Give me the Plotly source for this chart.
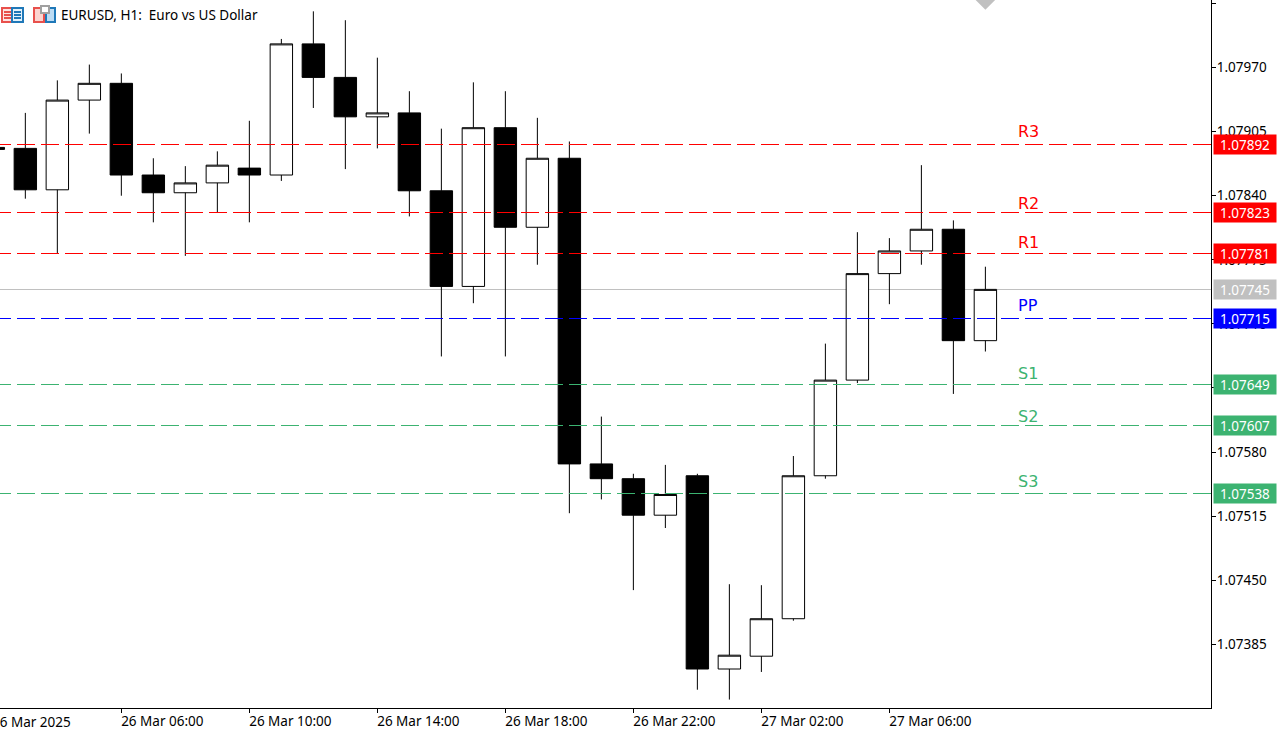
import plotly.graph_objects as go

# Hourly candles, the first one is only just visible at the left edge
times = ['2025-03-26 02:00', '2025-03-26 03:00', '2025-03-26 04:00', '2025-03-26 05:00', '2025-03-26 06:00',
         '2025-03-26 07:00', '2025-03-26 08:00', '2025-03-26 09:00', '2025-03-26 10:00', '2025-03-26 11:00',
         '2025-03-26 12:00', '2025-03-26 13:00', '2025-03-26 14:00', '2025-03-26 15:00', '2025-03-26 16:00',
         '2025-03-26 17:00', '2025-03-26 18:00', '2025-03-26 19:00', '2025-03-26 20:00', '2025-03-26 21:00',
         '2025-03-26 22:00', '2025-03-26 23:00', '2025-03-27 00:00', '2025-03-27 01:00', '2025-03-27 02:00',
         '2025-03-27 03:00', '2025-03-27 04:00', '2025-03-27 05:00', '2025-03-27 06:00', '2025-03-27 07:00',
         '2025-03-27 08:00', '2025-03-27 09:00']
opens = [1.07889, 1.07888, 1.07846, 1.07937, 1.07954, 1.07861, 1.07843, 1.07853, 1.07868, 1.07861, 1.07994, 1.07960,
         1.07920, 1.07924, 1.07845, 1.07748, 1.07909, 1.07808, 1.07878, 1.07568, 1.07553, 1.07516, 1.07556, 1.07360,
         1.07373, 1.07411, 1.07556, 1.07653, 1.07761, 1.07784, 1.07806, 1.07693]
highs = [1.07889, 1.07924, 1.07957, 1.07973, 1.07964, 1.07878, 1.07870, 1.07885, 1.07916, 1.07999, 1.08027, 1.08018,
         1.07980, 1.07946, 1.07908, 1.07955, 1.07946, 1.07919, 1.07895, 1.07616, 1.07558, 1.07567, 1.07558, 1.07446,
         1.07445, 1.07576, 1.07690, 1.07803, 1.07797, 1.07871, 1.07815, 1.07768]
lows = [1.07887, 1.07837, 1.07781, 1.07903, 1.07840, 1.07813, 1.07779, 1.07823, 1.07813, 1.07855, 1.07929, 1.07867,
        1.07888, 1.07819, 1.07677, 1.07731, 1.07677, 1.07770, 1.07518, 1.07532, 1.07440, 1.07503, 1.07339, 1.07329,
        1.07357, 1.07409, 1.07553, 1.07650, 1.07730, 1.07770, 1.07639, 1.07682]
closes = [1.07887, 1.07846, 1.07937, 1.07954, 1.07861, 1.07843, 1.07853, 1.07871, 1.07861, 1.07994, 1.07960, 1.07920,
          1.07924, 1.07845, 1.07748, 1.07909, 1.07808, 1.07878, 1.07568, 1.07553, 1.07516, 1.07537, 1.07360, 1.07374,
          1.07411, 1.07556, 1.07653, 1.07761, 1.07784, 1.07806, 1.07693, 1.07745]

level_names = ['R3', 'R2', 'R1', 'PP', 'S1', 'S2', 'S3']
level_values = [1.07892, 1.07823, 1.07781, 1.07715, 1.07649, 1.07607, 1.07538]
level_colors = ['#ff0000', '#ff0000', '#ff0000', '#0000ff', '#3cb371', '#3cb371', '#3cb371']
current_price = 1.07745

price_ticks = [1.08035, 1.07970, 1.07905, 1.07840, 1.07775, 1.07710, 1.07645, 1.07580, 1.07515, 1.07450, 1.07385]
time_ticks = ['2025-03-26 06:00', '2025-03-26 10:00', '2025-03-26 14:00', '2025-03-26 18:00',
              '2025-03-26 22:00', '2025-03-27 02:00', '2025-03-27 06:00']
time_labels = ['26 Mar 06:00', '26 Mar 10:00', '26 Mar 14:00', '26 Mar 18:00',
               '26 Mar 22:00', '27 Mar 02:00', '27 Mar 06:00']

X_RANGE = ['2025-03-26 02:12:30', '2025-03-27 16:03']
Y_RANGE = [1.0732045, 1.080385]
FONT = 'Noto Sans'
W, H = 1211, 708
# the level names do not sit at one fixed height above their lines
name_lift = [13, 9, 11, 13, 11, 9, 12]


def px(x):
    return x / W


def py(y):
    return 1 - y / H


def box(x0, y0, x1, y1, line, fill):
    return dict(type='rect', xref='paper', yref='paper', x0=px(x0), x1=px(x1), y0=py(y0), y1=py(y1),
                line=dict(color=line, width=1.5), fillcolor=fill)


def stroke(x0, y, x1, color):
    return dict(type='line', xref='paper', yref='paper', x0=px(x0), x1=px(x1), y0=py(y), y1=py(y),
                line=dict(color=color, width=1.5))


fig = go.Figure()

fig.add_trace(go.Candlestick(x=times, open=opens, high=highs, low=lows, close=closes,
                             increasing=dict(line=dict(color='black', width=1), fillcolor='white'),
                             decreasing=dict(line=dict(color='black', width=1), fillcolor='black'),
                             showlegend=False))

# Pivot levels, drawn over the candles
for name, value, color, lift in zip(level_names, level_values, level_colors, name_lift):
    fig.add_trace(go.Scatter(x=[times[0], X_RANGE[1]], y=[value, value], mode='lines', name=name,
                             line=dict(color=color, width=1, dash='18px,6px'), showlegend=False))
    fig.add_annotation(x='2025-03-27 10:20', y=value, yshift=lift, text=name, showarrow=False,
                       font=dict(family='DejaVu Sans', size=16, color=color))
    fig.add_annotation(xref='paper', x=1, xshift=2, xanchor='left', y=value, text=f'{value:.5f}', showarrow=False,
                       width=60, height=17, bgcolor=color, font=dict(family=FONT, size=13.5, color='white'))

fig.add_annotation(xref='paper', x=1, xshift=2, xanchor='left', y=current_price, text=f'{current_price:.5f}',
                   showarrow=False, width=60, height=17, bgcolor='#c0c0c0',
                   font=dict(family=FONT, size=13.5, color='white'))

# Shift marker at the top, over the last candle
fig.add_trace(go.Scatter(x=[times[-1]], y=[Y_RANGE[1]], mode='markers', showlegend=False,
                         marker=dict(symbol='diamond', size=15, color='#c0c0c0')))

# First time label starts left of the window, its tick is off the axis
fig.add_annotation(xref='x', x=X_RANGE[0], xshift=-10, xanchor='left', yref='paper', y=0, yshift=-3, yanchor='top',
                   text='26 Mar 2025', showarrow=False, font=dict(family=FONT, size=13.5, color='black'))

fig.add_annotation(xref='paper', x=px(59), xanchor='left', yref='paper', y=py(15), yanchor='middle', showarrow=False,
                   text='EURUSD, H1:  Euro vs US Dollar', font=dict(family=FONT, size=13.5, color='black'))

shapes = [
    dict(type='line', xref='paper', x0=0, x1=1, yref='y', y0=current_price, y1=current_price,
         line=dict(color='#c0c0c0', width=1), layer='below'),
    # toolbar icons top left
    box(2, 8, 12, 22, '#e8504c', '#fde4e2'),
    box(12, 8, 23, 22, '#1f78b8', '#e4f1fb'),
    stroke(4, 12, 11, '#e8504c'), stroke(4, 15, 11, '#e8504c'), stroke(4, 18, 11, '#e8504c'),
    stroke(14, 12, 21, '#1f78b8'), stroke(14, 15, 21, '#1f78b8'), stroke(14, 18, 21, '#1f78b8'),
    box(34, 8, 44, 22, '#e8504c', '#fcd4d0'),
    box(46, 8, 55, 22, '#1f78b8', '#bcdcf4'),
    box(41, 6, 49, 13, '#a0a0a0', 'white'),
]

fig.update_layout(
    width=1288, height=730, margin=dict(l=0, r=77, t=0, b=22),
    paper_bgcolor='white', plot_bgcolor='white', shapes=shapes, showlegend=False,
    boxgap=0, boxgroupgap=0.3,
    xaxis=dict(type='date', range=X_RANGE, rangeslider=dict(visible=False), showgrid=False, zeroline=False,
               automargin=False, tickmode='array', tickvals=time_ticks, ticktext=time_labels, ticks='outside',
               ticklen=4, tickcolor='black', ticklabelshift=41, ticklabelstandoff=-3,
               showline=True, linecolor='black', linewidth=1, tickfont=dict(family=FONT, size=13.5, color='black')),
    yaxis=dict(side='right', range=Y_RANGE, showgrid=False, zeroline=False, automargin=False,
               tickmode='array', tickvals=price_ticks, tickformat='.5f', ticks='outside', ticklen=4,
               ticklabelstandoff=-2, tickcolor='black', showline=True, linecolor='black', linewidth=1,
               tickfont=dict(family=FONT, size=13.5, color='black')),
)

fig.write_html("out.html", config=dict(displayModeBar=False),
               post_script="document.body.style.margin='0';document.body.style.overflow='hidden';"
                           "document.querySelectorAll('.js-line, .shapelayer path').forEach(function(p){"
                           "p.style.shapeRendering='crispEdges';});")
